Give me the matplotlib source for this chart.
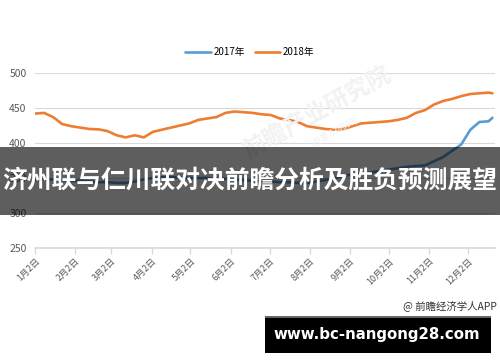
import matplotlib
matplotlib.use("Agg")
import matplotlib.pyplot as plt
import pandas as pd
from matplotlib.patches import Rectangle

plt.rcParams['font.family'] = ['Noto Sans CJK SC', 'DejaVu Sans']

# ---- data ----
series_names = ["2017年", "2018年"]
values_2017 = [347, 348, 348, 347, 346, 346, 345, 344, 344, 343, 343, 345, 348, 350,
               351, 351, 351, 350, 350, 350, 349, 349, 348, 347, 346, 345, 345, 344,
               344, 343, 343, 345, 347, 350, 353, 355, 356, 358, 360, 362, 364, 366,
               367, 368, 374, 380, 389, 398, 419, 430, 431, 436]
values_2018 = [442, 443, 437, 427, 424, 422, 420, 419.5, 417, 411, 408, 411, 408, 416,
               419, 422, 425, 428, 433, 435, 437, 443, 445, 444, 443, 441, 440, 435,
               433, 430, 424, 422, 420, 419, 420, 424, 428, 429, 430, 431, 433, 436,
               443, 447, 455, 460, 463, 467, 470, 471, 472, 471]
dates = list(pd.date_range("2018-01-02", periods=51, freq="7D")) + [pd.Timestamp("2018-12-21")]
tick_dates = [pd.Timestamp(f"2018-{m:02d}-02") for m in range(1, 13)]
tick_labels = ["1月2日", "2月2日", "3月2日", "4月2日", "5月2日", "6月2日",
               "7月2日", "8月2日", "9月2日", "10月2日", "11月2日", "12月2日"]
y_ticks = [250, 300, 350, 400, 450, 500]
title_text = "济州联与仁川联对决前瞻分析及胜负预测展望"
source_text = "@ 前瞻经济学人APP"
site_text = "www.bc-nangong28.com"

W, H = 500, 362
fig = plt.figure(figsize=(W / 100, H / 100), dpi=100)
fig.patch.set_facecolor("white")

ax = fig.add_axes([35 / W, 1 - 248 / H, 460 / W, 175 / H])
ax.set_facecolor("none")

# watermark
fig.text(318 / W, 1 - 112 / H, "前瞻产业研究院", rotation=29, fontsize=17,
         color="#f2f2f2", ha="center", va="center", fontweight="bold", zorder=0)
fig.text(335 / W, 1 - 133 / H, "(股票 839599)", rotation=29, fontsize=6,
         color="#f2f2f2", ha="center", va="center", zorder=0)

ax.plot(dates, values_2017, color="#5B9BD5", lw=1.9, label=series_names[0],
        solid_capstyle="round", zorder=3)
ax.plot(dates, values_2018, color="#ED7D31", lw=1.9, label=series_names[1],
        solid_capstyle="round", zorder=3)

ax.set_ylim(250, 500)
ax.set_xlim(pd.Timestamp("2018-01-02"), pd.Timestamp("2018-12-23"))
ax.set_yticks(y_ticks)
ax.set_yticklabels([str(v) for v in y_ticks], fontsize=7.5, color="#595959")
ax.set_xticks(tick_dates)
ax.set_xticklabels(tick_labels, rotation=45, ha="right", rotation_mode="anchor",
                   fontsize=6.5, color="#595959")
ax.tick_params(axis="y", length=0, pad=6)
ax.tick_params(axis="x", length=4, color="#d9d9d9", width=1, pad=2)
ax.grid(axis="y", color="#d9d9d9", lw=0.8)
ax.set_axisbelow(True)
for s in ["top", "right", "left"]:
    ax.spines[s].set_visible(False)
ax.spines["bottom"].set_color("#d9d9d9")
ax.spines["bottom"].set_linewidth(1.2)

fig.legend(loc="center", bbox_to_anchor=(250 / W, 1 - 52 / H), ncol=2,
           frameon=False, fontsize=7, handlelength=2.6, columnspacing=1.0,
           handletextpad=0.3)

# dark band with title
fig.patches.append(Rectangle((0, 1 - 215 / H), 1, 68 / H, transform=fig.transFigure,
                             facecolor="black", alpha=0.63, edgecolor="none", zorder=5))
fig.text(0.5, 1 - 181 / H, title_text, fontsize=17.8, color="white",
         fontweight="bold", ha="center", va="center", zorder=6)

# source
fig.text(497 / W, 1 - 306 / H, source_text, fontsize=7.5, color="#333333",
         ha="right", va="center")

# black site box
fig.patches.append(Rectangle((265 / W, 1 - 353 / H), 226 / W, 37 / H,
                             transform=fig.transFigure, facecolor="black",
                             edgecolor="none", zorder=5))
fig.patches.append(Rectangle((265 / W, 1 - 318 / H), 226 / W, 2 / H,
                             transform=fig.transFigure, facecolor="#666666",
                             edgecolor="none", zorder=6))
fig.text(377 / W, 1 - 335 / H, site_text, fontsize=10.8, color="white",
         fontweight="bold", family="DejaVu Sans", ha="center", va="center", zorder=7)

fig.savefig("out.png", dpi=100)
